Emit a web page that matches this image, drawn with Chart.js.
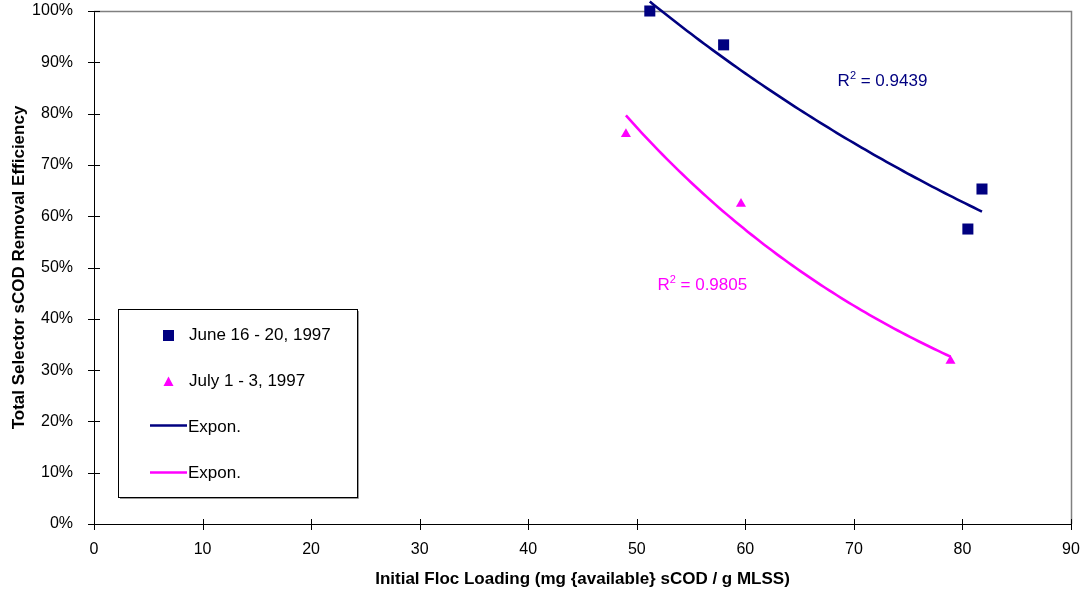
<!DOCTYPE html>
<html>
<head>
<meta charset="utf-8">
<script src="https://cdn.jsdelivr.net/npm/chart.js@4/dist/chart.umd.min.js"></script>
<style>
  html, body { margin: 0; padding: 0; background: #ffffff; }
  #wrap { width: 1085px; height: 592px; }
</style>
</head>
<body>
<div id="wrap"><canvas id="c" width="1085" height="592"></canvas></div>
<script>
// Initial floc loading (mg sCOD / g MLSS) and removal efficiency (%) per run
const juneLoading = [51.2, 58.0, 80.5, 81.8];
const juneEfficiency = [100.0, 93.4, 57.5, 65.3];
const julyLoading = [49.0, 59.6, 78.9];
const julyEfficiency = [76.0, 62.4, 31.8];

const seriesNames = ['June 16 - 20, 1997', 'July 1 - 3, 1997'];
const trendName = 'Expon.';
const r2Values = ['0.9439', '0.9805'];
// where each R² note sits, in axis units (x, baseline y)
const r2LabelX = [68.5, 51.9];
const r2LabelY = [85.4, 45.6];

const xTitle = 'Initial Floc Loading (mg {available} sCOD / g MLSS)';
const yTitle = 'Total Selector sCOD Removal Efficiency';

const NAVY = '#000080';
const MAGENTA = '#FF00FF';
const FONT = '"Liberation Sans", Arial, sans-serif';

// Least-squares exponential trend y = a * e^(b x), fitted on ln(y)
function expTrend(xs, ys, steps) {
  const n = xs.length;
  const ly = ys.map(v => Math.log(v));
  const mx = xs.reduce((s, v) => s + v, 0) / n;
  const my = ly.reduce((s, v) => s + v, 0) / n;
  let sxy = 0, sxx = 0;
  for (let i = 0; i < n; i++) {
    sxy += (xs[i] - mx) * (ly[i] - my);
    sxx += (xs[i] - mx) * (xs[i] - mx);
  }
  const b = sxy / sxx;
  const a = Math.exp(my - b * mx);
  const lo = Math.min(...xs), hi = Math.max(...xs);
  const pts = [];
  for (let i = 0; i <= steps; i++) {
    const x = lo + (hi - lo) * i / steps;
    pts.push({ x, y: a * Math.exp(b * x) });
  }
  return pts;
}

const toPoints = (xs, ys) => xs.map((x, i) => ({ x, y: ys[i] }));

// Axis cross ticks and the grey frame on the top/right of the plot
const framePlugin = {
  id: 'frame',
  beforeDatasetsDraw(chart) {
    const { ctx, chartArea: a, scales } = chart;
    ctx.save();
    ctx.strokeStyle = '#808080';
    ctx.lineWidth = 1.5;
    ctx.beginPath();
    ctx.moveTo(a.left, a.top + 0.5);
    ctx.lineTo(a.right + 0.5, a.top + 0.5);
    ctx.lineTo(a.right + 0.5, a.bottom);
    ctx.stroke();

    ctx.strokeStyle = '#000000';
    ctx.lineWidth = 1;
    ctx.beginPath();
    scales.x.ticks.forEach(t => {
      const px = Math.round(scales.x.getPixelForValue(t.value)) + 0.5;
      ctx.moveTo(px, a.bottom - 5);
      ctx.lineTo(px, a.bottom + 6);
    });
    scales.y.ticks.forEach(t => {
      const py = Math.round(scales.y.getPixelForValue(t.value)) + 0.5;
      ctx.moveTo(a.left - 6, py);
      ctx.lineTo(a.left + 6, py);
    });
    ctx.stroke();
    ctx.restore();
  }
};

// R² notes beside each trend curve
function drawR2(ctx, x, y, value, color) {
  ctx.fillStyle = color;
  ctx.textBaseline = 'alphabetic';
  ctx.textAlign = 'left';
  ctx.font = '17px ' + FONT;
  ctx.fillText('R', x, y);
  let w = ctx.measureText('R').width;
  ctx.font = '11px ' + FONT;
  ctx.fillText('2', x + w, y - 7);
  w += ctx.measureText('2').width;
  ctx.font = '17px ' + FONT;
  ctx.fillText(' = ' + value, x + w, y);
}

const notesPlugin = {
  id: 'notes',
  afterDatasetsDraw(chart) {
    const { ctx, scales } = chart;
    ctx.save();
    const colors = [NAVY, MAGENTA];
    r2Values.forEach((v, i) => {
      drawR2(ctx, scales.x.getPixelForValue(r2LabelX[i]), scales.y.getPixelForValue(r2LabelY[i]), v, colors[i]);
    });
    ctx.restore();
  }
};

// Boxed legend inside the plot, lower left
const boxLegendPlugin = {
  id: 'boxLegend',
  afterDraw(chart) {
    const { ctx } = chart;
    ctx.save();
    ctx.fillStyle = '#ffffff';
    ctx.fillRect(119, 310, 239, 188);
    ctx.strokeStyle = '#000000';
    ctx.lineWidth = 1;
    ctx.strokeRect(118.5, 309.5, 239, 188);
    ctx.strokeStyle = '#9a9a9a';
    ctx.beginPath();
    ctx.moveTo(358.5, 311); ctx.lineTo(358.5, 498.5); ctx.lineTo(120, 498.5);
    ctx.stroke();

    ctx.font = '17px ' + FONT;
    ctx.textBaseline = 'middle';
    ctx.textAlign = 'left';

    // square marker
    ctx.fillStyle = NAVY;
    ctx.fillRect(163, 330, 11, 11);
    ctx.fillStyle = '#000000';
    ctx.fillText(seriesNames[0], 189, 335);

    // triangle marker
    ctx.fillStyle = MAGENTA;
    ctx.beginPath();
    ctx.moveTo(168.5, 376.5);
    ctx.lineTo(173.5, 386);
    ctx.lineTo(163.5, 386);
    ctx.closePath();
    ctx.fill();
    ctx.fillStyle = '#000000';
    ctx.fillText(seriesNames[1], 189, 381.5);

    // trend lines
    ctx.lineWidth = 2.5;
    ctx.strokeStyle = NAVY;
    ctx.beginPath(); ctx.moveTo(150, 425.5); ctx.lineTo(187, 425.5); ctx.stroke();
    ctx.strokeStyle = MAGENTA;
    ctx.beginPath(); ctx.moveTo(150, 472.5); ctx.lineTo(187, 472.5); ctx.stroke();
    ctx.fillStyle = '#000000';
    ctx.fillText(trendName, 188, 427);
    ctx.fillText(trendName, 188, 473.5);
    ctx.restore();
  }
};

new Chart(document.getElementById('c'), {
  type: 'scatter',
  data: {
    datasets: [
      {
        label: seriesNames[0],
        data: toPoints(juneLoading, juneEfficiency),
        pointStyle: 'rect',
        pointRadius: 7.8,
        backgroundColor: NAVY,
        borderColor: NAVY,
        borderWidth: 0,
        clip: false,
        order: 0
      },
      {
        label: seriesNames[1],
        data: toPoints(julyLoading, julyEfficiency),
        pointStyle: 'triangle',
        pointRadius: 5.8,
        backgroundColor: MAGENTA,
        borderColor: MAGENTA,
        borderWidth: 0,
        clip: false,
        order: 0
      },
      {
        type: 'line',
        label: trendName,
        data: expTrend(juneLoading, juneEfficiency, 80),
        borderColor: NAVY,
        borderWidth: 2.6,
        pointRadius: 0,
        tension: 0,
        fill: false,
        clip: false,
        order: 1
      },
      {
        type: 'line',
        label: trendName,
        data: expTrend(julyLoading, julyEfficiency, 80),
        borderColor: MAGENTA,
        borderWidth: 2.6,
        pointRadius: 0,
        tension: 0,
        fill: false,
        clip: false,
        order: 1
      }
    ]
  },
  options: {
    responsive: false,
    animation: false,
    devicePixelRatio: 1,
    layout: { autoPadding: false, padding: { left: 0, right: 14, top: 11, bottom: 0 } },
    plugins: {
      legend: { display: false },
      tooltip: { enabled: false }
    },
    scales: {
      x: {
        type: 'linear',
        position: 'bottom',
        min: 0,
        max: 90,
        afterFit(scale) { scale.height = 68; scale.paddingLeft = 0; scale.paddingRight = 0; },
        ticks: {
          stepSize: 10,
          autoSkip: false,
          maxRotation: 0,
          color: '#000000',
          padding: 8,
          font: { size: 16, family: FONT }
        },
        grid: { display: false },
        border: { display: true, color: '#000000', width: 1 },
        title: {
          display: true,
          text: xTitle,
          color: '#000000',
          font: { size: 17, weight: 'bold', family: FONT },
          padding: { top: 0, bottom: 2 }
        }
      },
      y: {
        type: 'linear',
        min: 0,
        max: 100,
        afterFit(scale) { scale.width = 94; scale.paddingTop = 0; scale.paddingBottom = 0; },
        ticks: {
          stepSize: 10,
          color: '#000000',
          padding: 13,
          font: { size: 16, family: FONT },
          callback: v => v + '%'
        },
        grid: { display: false },
        border: { display: true, color: '#000000', width: 1 },
        title: {
          display: true,
          text: yTitle,
          color: '#000000',
          font: { size: 17, weight: 'bold', family: FONT },
          padding: { top: 9, bottom: 0 }
        }
      }
    }
  },
  plugins: [framePlugin, notesPlugin, boxLegendPlugin]
});
</script>
</body>
</html>
